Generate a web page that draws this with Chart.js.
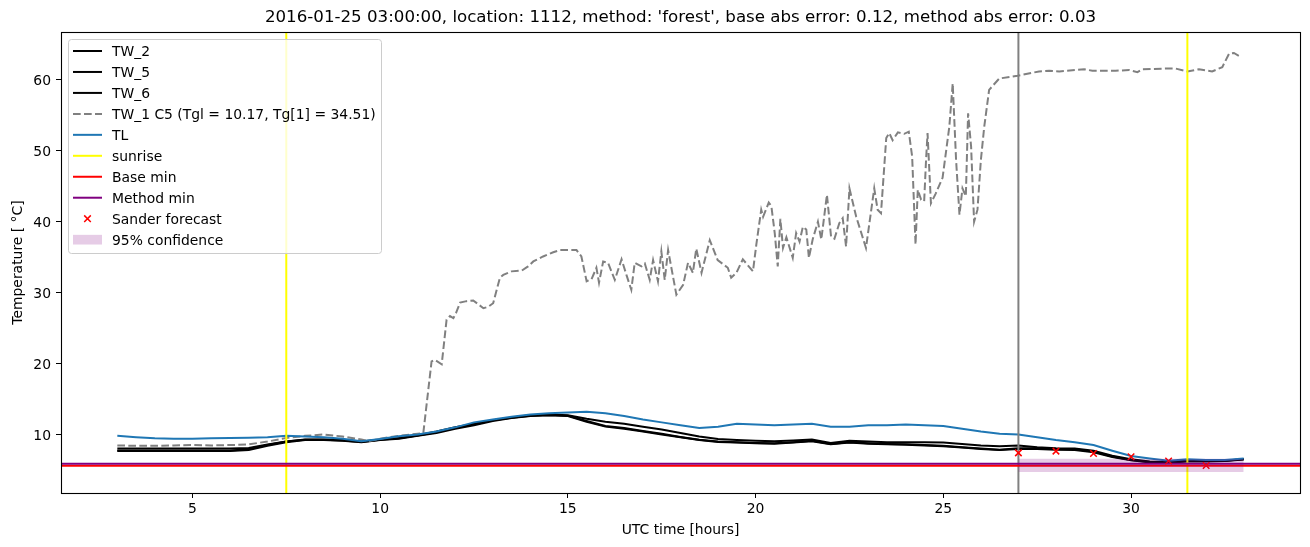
<!DOCTYPE html>
<html>
<head>
<meta charset="utf-8">
<script src="https://cdn.jsdelivr.net/npm/chart.js@4"></script>
<style>
  html, body { margin: 0; padding: 0; background: #fff; }
  #wrap { position: relative; width: 1310px; height: 547px; }
</style>
</head>
<body>
<div id="wrap"><canvas id="chart"></canvas></div>
<script>
// ---------------- data ----------------
const titleText = "2016-01-25 03:00:00, location: 1112, method: 'forest', base abs error: 0.12, method abs error: 0.03";

// half-hourly time base for TL and the TW_2/5/6 sensors (UTC hours)
const halfHours = [3, 3.5, 4, 4.5, 5, 5.5, 6, 6.5, 7, 7.5, 8, 8.5, 9, 9.5, 10, 10.5, 11, 11.5, 12, 12.5,
  13, 13.5, 14, 14.5, 15, 15.5, 16, 16.5, 17, 17.5, 18, 18.5, 19, 19.5, 20, 20.5, 21, 21.5, 22, 22.5,
  23, 23.5, 24, 24.5, 25, 25.5, 26, 26.5, 27, 27.5, 28, 28.5, 29, 29.5, 30, 30.5, 31, 31.5, 32, 32.5, 33];

const tlValues = [9.8, 9.6, 9.45, 9.4, 9.4, 9.45, 9.5, 9.55, 9.6, 9.8, 9.7, 9.6, 9.4, 9.05, 9.35, 9.75, 10.0, 10.4, 11.0, 11.7,
  12.1, 12.5, 12.8, 13.0, 13.1, 13.2, 13.0, 12.6, 12.1, 11.7, 11.3, 10.9, 11.1, 11.5, 11.4, 11.3, 11.4, 11.5, 11.1, 11.1,
  11.3, 11.3, 11.4, 11.3, 11.2, 10.8, 10.4, 10.1, 10.0, 9.6, 9.2, 8.9, 8.5, 7.7, 6.95, 6.6, 6.3, 6.5, 6.4, 6.4, 6.6];

const tw2Values = [8.0, 8.0, 8.0, 8.0, 8.0, 8.0, 8.0, 8.1, 8.6, 9.0, 9.3, 9.3, 9.25, 9.0, 9.3, 9.5, 9.9, 10.4, 11.0, 11.5,
  12.0, 12.4, 12.7, 12.8, 12.7, 12.2, 11.8, 11.5, 11.1, 10.7, 10.2, 9.7, 9.35, 9.2, 9.1, 9.05, 9.15, 9.3, 8.8, 9.1,
  9.0, 8.9, 8.9, 8.9, 8.85, 8.65, 8.45, 8.35, 8.45, 8.2, 8.05, 8.0, 7.7, 7.0, 6.5, 6.2, 6.1, 6.3, 6.3, 6.3, 6.55];

const tw5Values = [7.65, 7.65, 7.65, 7.65, 7.65, 7.65, 7.65, 7.8, 8.4, 8.9, 9.2, 9.2, 9.1, 8.9, 9.2, 9.4, 9.8, 10.2, 10.8, 11.3,
  11.9, 12.3, 12.6, 12.7, 12.6, 11.8, 11.1, 10.8, 10.4, 10.0, 9.6, 9.2, 8.95, 8.85, 8.75, 8.7, 8.85, 9.05, 8.6, 8.85,
  8.7, 8.6, 8.55, 8.45, 8.35, 8.15, 7.95, 7.8, 7.95, 7.95, 7.85, 7.8, 7.5, 6.8, 6.35, 6.05, 6.0, 6.2, 6.2, 6.25, 6.45];

const tw6Values = [7.75, 7.75, 7.75, 7.75, 7.75, 7.75, 7.75, 7.9, 8.5, 9.0, 9.25, 9.25, 9.15, 8.95, 9.25, 9.45, 9.85, 10.3, 10.9, 11.4,
  12.0, 12.35, 12.65, 12.75, 12.65, 11.9, 11.2, 10.9, 10.5, 10.1, 9.65, 9.25, 9.0, 8.9, 8.8, 8.75, 8.9, 9.1, 8.65, 8.9,
  8.75, 8.65, 8.6, 8.5, 8.4, 8.2, 8.0, 7.85, 8.05, 8.05, 7.95, 7.9, 7.6, 6.9, 6.4, 6.1, 6.05, 6.25, 6.25, 6.3, 6.5];

// TW_1 C5 (grey dashed), irregular samples
const tw1Times = [3, 3.5, 4, 4.5, 5, 5.5, 6, 6.5, 7, 7.5, 8, 8.5, 9, 9.5, 9.7, 10, 10.5, 11, 11.15,
  11.37, 11.46, 11.64, 11.77, 11.86, 11.95, 12.02, 12.13, 12.3, 12.48, 12.75, 12.88, 13.01, 13.19, 13.28, 13.5, 13.77,
  13.94, 14.08, 14.34, 14.61, 14.79, 15.05, 15.23, 15.36, 15.5, 15.63, 15.76, 15.83, 15.94, 16.07, 16.25, 16.43, 16.56,
  16.69, 16.78, 16.96, 17.05, 17.18, 17.27, 17.4, 17.49, 17.58, 17.67, 17.89, 18.07, 18.2, 18.33, 18.42, 18.56, 18.78,
  18.99, 19.26, 19.35, 19.49, 19.66, 19.93, 20.02, 20.15, 20.2, 20.35, 20.42, 20.51, 20.59, 20.66, 20.73, 20.82, 20.99,
  21.08, 21.17, 21.26, 21.35, 21.42, 21.52, 21.66, 21.75, 21.9, 22.01, 22.1, 22.23, 22.32, 22.41, 22.5, 22.68, 22.94,
  23.16, 23.25, 23.34, 23.48, 23.56, 23.65, 23.79, 23.96, 24.08, 24.17, 24.26, 24.32, 24.41, 24.49, 24.54, 24.58, 24.67,
  24.8, 24.98, 25.16, 25.25, 25.34, 25.43, 25.51, 25.6, 25.66, 25.74, 25.82, 25.91, 26.0, 26.09, 26.22, 26.49, 26.98,
  27.55, 27.82, 28.09, 28.75, 28.97, 29.59, 29.95, 30.17, 30.3, 30.92, 31.19, 31.5, 31.81, 32.16, 32.43, 32.61, 32.74, 32.87];
const tw1Values = [8.45, 8.4, 8.4, 8.45, 8.5, 8.45, 8.5, 8.6, 9.0, 9.5, 9.8, 10.0, 9.7, 9.3, 9.05, 9.4, 9.8, 10.1, 10.2,
  20.3, 20.5, 19.9, 26.2, 26.7, 26.4, 27.1, 28.6, 28.8, 28.9, 27.8, 28.0, 28.5, 32.1, 32.5, 33.0, 33.1,
  33.7, 34.4, 35.1, 35.7, 36.0, 36.0, 36.0, 35.1, 31.6, 31.9, 33.5, 31.4, 34.4, 34.2, 31.8, 34.7, 32.5,
  30.4, 34.2, 33.7, 34.1, 31.8, 34.6, 31.6, 35.8, 31.8, 36.0, 29.7, 31.1, 34.2, 32.8, 36.2, 32.8, 37.4,
  34.6, 33.5, 32.1, 32.8, 34.7, 33.0, 36.8, 41.7, 40.7, 42.7, 42.2, 38.4, 33.7, 40.4, 36.3, 37.8, 34.9,
  38.4, 37.2, 39.3, 38.9, 34.9, 37.5, 40.0, 37.5, 43.8, 37.9, 37.6, 39.8, 40.5, 36.5, 44.7, 40.7, 36.3,
  44.7, 41.7, 41.2, 51.8, 52.5, 51.5, 52.6, 52.4, 52.7, 49.2, 36.8, 44.5, 43.1, 42.9, 48.7, 52.5, 42.6,
  44.0, 46.2, 53.4, 59.5, 48.7, 41.0, 44.7, 43.6, 55.3, 50.6, 40.0, 41.7, 48.7, 53.4, 58.6, 60.2, 60.6,
  61.2, 61.3, 61.2, 61.5, 61.3, 61.3, 61.4, 61.1, 61.5, 61.6, 61.6, 61.2, 61.5, 61.2, 61.8, 63.7, 63.8, 63.4];

const sunriseTimes = [7.5, 31.5];
const nowTime = 27;
const baseMin = 5.6;
const methodMin = 5.87;
const forecastTimes = [27, 28, 29, 30, 31, 32];
const forecastValues = [7.4, 7.65, 7.3, 6.85, 6.25, 5.63];
const confTimes = [27, 33];
const confLower = [4.7, 4.7];
const confUpper = [6.58, 6.58];

const xRange = [1.5, 34.5];
const yRange = [1.74, 66.76];
const xTickValues = [5, 10, 15, 20, 25, 30];
const yTickValues = [10, 20, 30, 40, 50, 60];

// ---------------- helpers ----------------
const FONT = "'DejaVu Sans', sans-serif";
const pts = (xs, ys) => xs.map((x, i) => ({ x: x, y: ys[i] }));
const vline = x => [{ x: x, y: yRange[0] }, { x: x, y: yRange[1] }];
const hline = y => [{ x: xRange[0], y: y }, { x: xRange[1], y: y }];

function lineSet(label, data, color, extra) {
  return Object.assign({
    label: label, data: data, borderColor: color, backgroundColor: color,
    borderWidth: 2, pointRadius: 0, tension: 0, fill: false, legendKind: 'line'
  }, extra || {});
}

const datasets = [
  lineSet('TW_2', pts(halfHours, tw2Values), '#000000'),
  lineSet('TW_5', pts(halfHours, tw5Values), '#000000'),
  lineSet('TW_6', pts(halfHours, tw6Values), '#000000'),
  lineSet('TW_1 C5 (Tgl = 10.17, Tg[1] = 34.51)', pts(tw1Times, tw1Values), '#808080', { borderDash: [7.7, 3.3] }),
  lineSet('TL', pts(halfHours, tlValues), '#1f77b4'),
  lineSet('', vline(nowTime), '#808080', { legendKind: null }),
  lineSet('sunrise', vline(sunriseTimes[0]), '#ffff00'),
  lineSet('', vline(sunriseTimes[1]), '#ffff00', { legendKind: null }),
  lineSet('Base min', hline(baseMin), '#ff0000'),
  lineSet('Method min', hline(methodMin), '#800080'),
  {
    label: 'Sander forecast', data: pts(forecastTimes, forecastValues), showLine: false,
    pointStyle: 'crossRot', pointRadius: 4.6, pointBorderWidth: 1.5, pointHoverRadius: 4.6,
    borderColor: '#ff0000', backgroundColor: '#ff0000', legendKind: 'marker'
  },
  lineSet('', pts(confTimes, confLower), 'rgba(0,0,0,0)', { borderWidth: 0, legendKind: null }),
  lineSet('95% confidence', pts(confTimes, confUpper), 'rgba(0,0,0,0)', {
    borderWidth: 0, fill: '-1', backgroundColor: 'rgba(128,0,128,0.2)', legendKind: 'patch', patchColor: 'rgba(128,0,128,0.2)'
  })
];
// matplotlib stacking: later plots on top
datasets.forEach((d, i) => { d.order = datasets.length - i; });

// ---------------- decorations: title, spines, legend ----------------
const decorations = {
  id: 'decorations',
  afterDraw(chart) {
    const ctx = chart.ctx;
    const a = chart.chartArea;
    ctx.save();

    // title
    ctx.fillStyle = '#000';
    ctx.font = '16.67px ' + FONT;
    ctx.textAlign = 'center';
    ctx.textBaseline = 'middle';
    ctx.fillText(titleText, (a.left + a.right) / 2, 18);

    // spines
    ctx.strokeStyle = '#000';
    ctx.lineWidth = 1.1;
    ctx.strokeRect(Math.round(a.left) + 0.5, Math.round(a.top) + 0.5,
      Math.round(a.right - a.left), Math.round(a.bottom - a.top));

    // legend
    const bx = 68.5, by = 39.5, bw = 313, bh = 214, r = 3;
    ctx.beginPath();
    ctx.moveTo(bx + r, by);
    ctx.arcTo(bx + bw, by, bx + bw, by + bh, r);
    ctx.arcTo(bx + bw, by + bh, bx, by + bh, r);
    ctx.arcTo(bx, by + bh, bx, by, r);
    ctx.arcTo(bx, by, bx + bw, by, r);
    ctx.closePath();
    ctx.fillStyle = 'rgba(255,255,255,0.8)';
    ctx.fill();
    ctx.strokeStyle = '#cccccc';
    ctx.lineWidth = 1;
    ctx.stroke();

    const items = chart.data.datasets.filter(d => d.legendKind);
    ctx.font = '13.9px ' + FONT;
    ctx.textAlign = 'left';
    ctx.textBaseline = 'middle';
    items.forEach((d, i) => {
      const y = 51 + i * 20.96;
      if (d.legendKind === 'line') {
        ctx.strokeStyle = d.borderColor;
        ctx.lineWidth = 2;
        ctx.setLineDash(d.borderDash || []);
        ctx.beginPath();
        ctx.moveTo(73, y);
        ctx.lineTo(102, y);
        ctx.stroke();
        ctx.setLineDash([]);
      } else if (d.legendKind === 'marker') {
        ctx.strokeStyle = d.borderColor;
        ctx.lineWidth = 1.5;
        const s = 3.3;
        ctx.beginPath();
        ctx.moveTo(87.5 - s, y - s); ctx.lineTo(87.5 + s, y + s);
        ctx.moveTo(87.5 - s, y + s); ctx.lineTo(87.5 + s, y - s);
        ctx.stroke();
      } else if (d.legendKind === 'patch') {
        ctx.fillStyle = d.patchColor;
        ctx.fillRect(73, y - 4.8, 29, 9.7);
      }
      ctx.fillStyle = '#000';
      ctx.fillText(d.label, 112, y + 1.5);
    });
    ctx.restore();
  }
};

new Chart(document.getElementById('chart'), {
  type: 'line',
  data: { datasets: datasets },
  plugins: [decorations],
  options: {
    responsive: true,
    maintainAspectRatio: false,
    animation: false,
    events: [],
    layout: { padding: { top: 32, right: 10, left: 0, bottom: 0 } },
    plugins: { legend: { display: false }, title: { display: false }, tooltip: { enabled: false } },
    scales: {
      x: {
        type: 'linear', min: xRange[0], max: xRange[1],
        afterBuildTicks: s => { s.ticks = xTickValues.map(v => ({ value: v })); },
        afterFit: s => { s.height = 54; },
        grid: { drawOnChartArea: false, drawTicks: true, tickLength: 5, color: '#000', tickWidth: 1 },
        border: { display: false },
        ticks: { color: '#000', font: { family: FONT, size: 13.9 }, padding: 3, maxRotation: 0 },
        title: { display: true, text: 'UTC time [hours]', color: '#000', font: { family: FONT, size: 13.9 }, padding: { top: 0, bottom: 8 } }
      },
      y: {
        type: 'linear', min: yRange[0], max: yRange[1],
        afterBuildTicks: s => { s.ticks = yTickValues.map(v => ({ value: v })); },
        afterFit: s => { s.width = 61; },
        grid: { drawOnChartArea: false, drawTicks: true, tickLength: 5, color: '#000', tickWidth: 1 },
        border: { display: false },
        ticks: { color: '#000', font: { family: FONT, size: 13.9 }, padding: 5, labelOffset: 1.5 },
        title: { display: true, text: 'Temperature [ °C]', color: '#000', font: { family: FONT, size: 13.9 }, padding: { top: 10, bottom: 0 } }
      }
    }
  }
});
</script>
</body>
</html>
